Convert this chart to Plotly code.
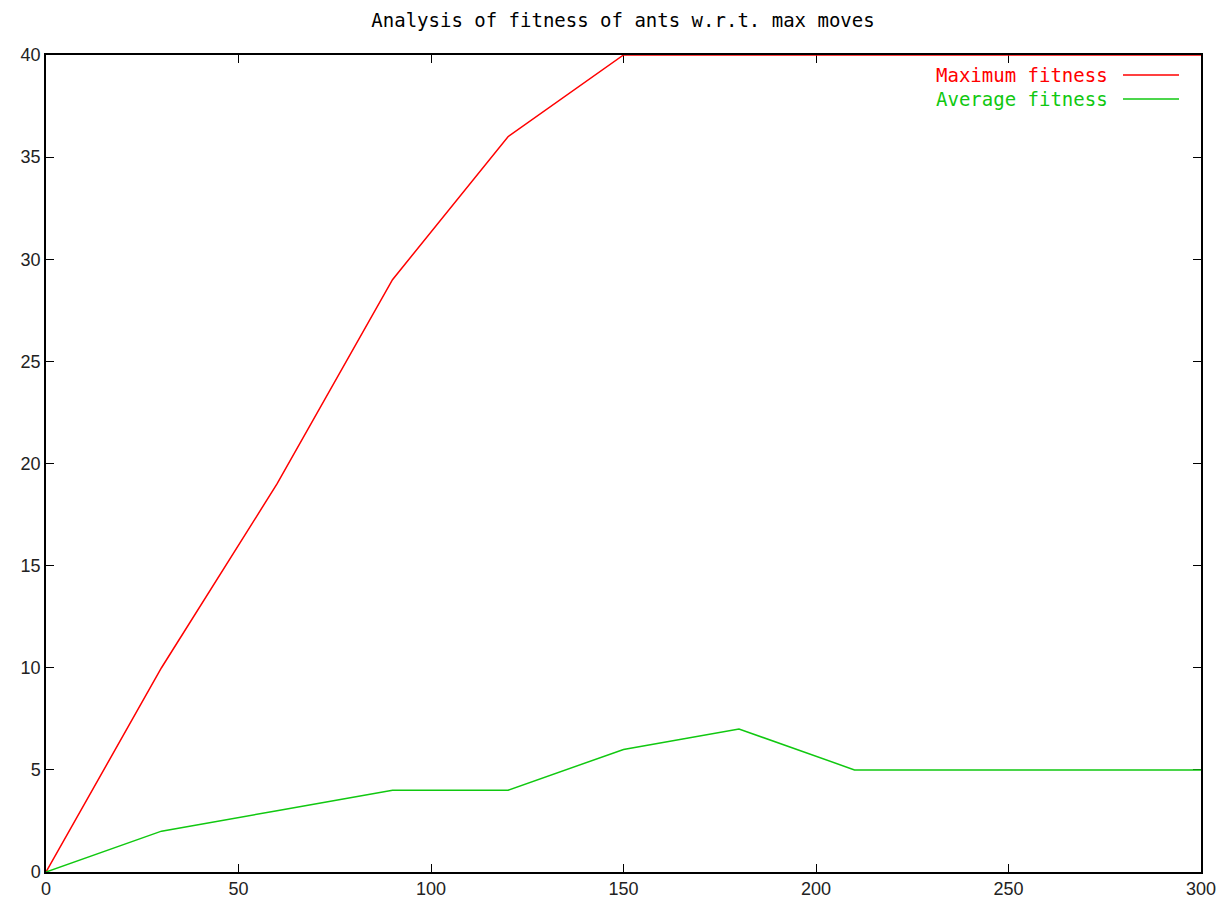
import plotly.graph_objects as go

max_moves = [0, 30, 60, 90, 120, 150, 180, 210, 240, 270, 300]
max_fitness = [0, 10, 19, 29, 36, 40, 40, 40, 40, 40, 40]
avg_fitness = [0, 2, 3, 4, 4, 6, 7, 5, 5, 5, 5]
series_names = ["Maximum fitness", "Average fitness"]
series_colors = ["#ff0000", "#10c810"]
title_text = "Analysis of fitness of ants w.r.t. max moves"

fig = go.Figure()
for name, ys, col in zip(series_names, [max_fitness, avg_fitness], series_colors):
    fig.add_trace(go.Scatter(x=max_moves, y=ys, mode="lines", name=name,
                             line=dict(color=col, width=1.5), cliponaxis=False,
                             showlegend=False))

mono = "DejaVu Sans Mono"
PW = 1155.0
PH = 817.0
# legend built from annotations + line samples (text left of sample like gnuplot)
for i, (name, col) in enumerate(zip(series_names, series_colors)):
    yp = 1 - (20 + 24 * i) / PH
    fig.add_annotation(xref="paper", yref="paper", x=(1110 - 46) / PW, y=yp,
                       text=name, showarrow=False, xanchor="right", yanchor="middle",
                       font=dict(family=mono, size=19, color=col))
    fig.add_shape(type="line", xref="paper", yref="paper",
                  x0=(1123 - 46) / PW, x1=(1179 - 46) / PW, y0=yp, y1=yp,
                  line=dict(color=col, width=1.5))

axis_common = dict(showline=True, linecolor="#000000", linewidth=1.5, mirror="ticks",
                   ticks="inside", ticklen=8, tickwidth=1.2, tickcolor="#000000",
                   showgrid=False, zeroline=False, layer="below traces",
                   tickfont=dict(family="Liberation Sans", size=18, color="#222222"))

fig.update_xaxes(range=[0, 300], dtick=50, tick0=0, **axis_common)
fig.update_yaxes(range=[0, 40], dtick=5, tick0=0, **axis_common)

fig.update_layout(
    width=1231, height=907,
    margin=dict(l=38, r=38, t=47, b=43),
    paper_bgcolor="white", plot_bgcolor="white",
    title=dict(text=title_text, x=(623 - 8) / 1231, xanchor="center", y=1 - 12 / 907,
               yanchor="middle",
               font=dict(family=mono, size=19, color="#000000")),
)

fig.write_html("out.html")
